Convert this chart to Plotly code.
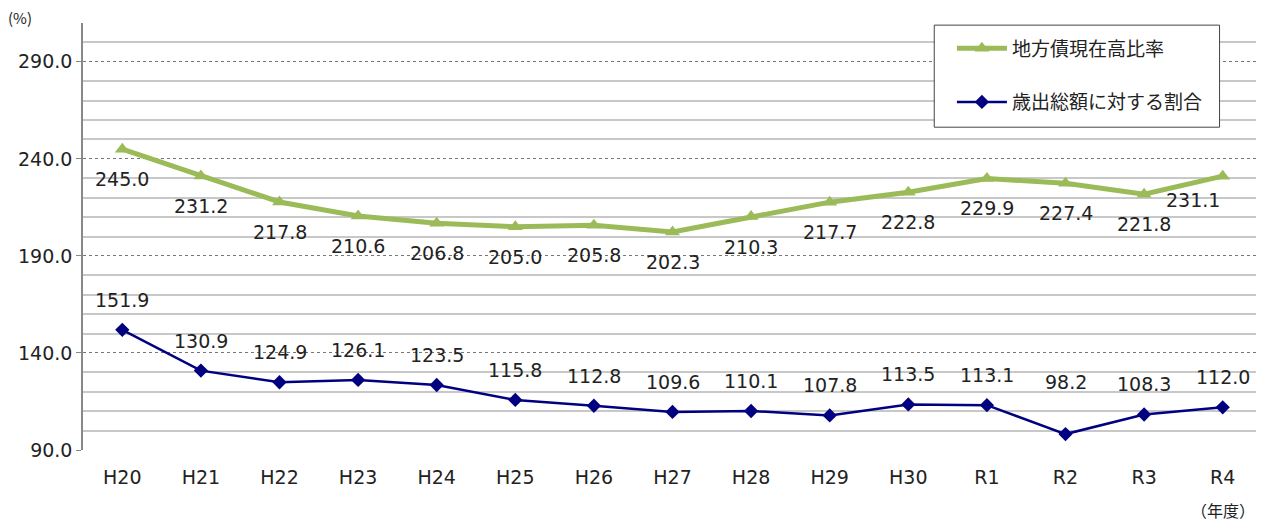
import plotly.graph_objects as go

# 年度
years = ["H20", "H21", "H22", "H23", "H24", "H25", "H26", "H27", "H28", "H29",
         "H30", "R1", "R2", "R3", "R4"]
# 地方債現在高比率
debt_ratio = [245.0, 231.2, 217.8, 210.6, 206.8, 205.0, 205.8, 202.3, 210.3,
              217.7, 222.8, 229.9, 227.4, 221.8, 231.1]
# 歳出総額に対する割合
expend_ratio = [151.9, 130.9, 124.9, 126.1, 123.5, 115.8, 112.8, 109.6, 110.1,
                107.8, 113.5, 113.1, 98.2, 108.3, 112.0]

JP = "Noto Sans CJK JP"
NUM = "DejaVu Sans, Noto Sans CJK JP"
GREEN = "#9BBB59"
NAVY = "#000080"
TXT = "#222"

fig = go.Figure()
fig.add_trace(go.Scatter(
    x=years, y=debt_ratio, name="地方債現在高比率", legendgroup="a",
    mode="lines+markers",
    line=dict(color=GREEN, width=5),
    marker=dict(symbol="triangle-up", size=13, color=GREEN),
))
fig.add_trace(go.Scatter(
    x=years, y=expend_ratio, name="歳出総額に対する割合", legendgroup="b",
    mode="lines+markers",
    line=dict(color=NAVY, width=2.5),
    marker=dict(symbol="diamond", size=11, color=NAVY),
))

# データラベル
for yr, v in zip(years, debt_ratio):
    xs, ys = 0, -30
    if yr == "R4":
        xs, ys = -30, -24
    fig.add_annotation(x=yr, y=v, text=f"{v:.1f}", showarrow=False,
                       xshift=xs, yshift=ys,
                       font=dict(family=NUM, size=19, color=TXT))
for yr, v in zip(years, expend_ratio):
    ys = 30
    if yr == "R2":
        ys = 52
    fig.add_annotation(x=yr, y=v, text=f"{v:.1f}", showarrow=False,
                       yshift=ys,
                       font=dict(family=NUM, size=19, color=TXT))

fig.add_annotation(xref="paper", yref="paper", x=-0.065, y=1.0,
                   xanchor="left", yanchor="middle", yshift=6, text="(%)",
                   showarrow=False, font=dict(family=JP, size=15, color=TXT))
fig.add_annotation(x="R4", yref="paper", y=-0.14, yanchor="middle",
                   text="（年度）", showarrow=False,
                   font=dict(family=JP, size=16, color=TXT))

# 凡例の枠
fig.add_shape(type="rect", xref="paper", yref="paper",
              x0=0.722, x1=0.964, y0=0.756, y1=0.995,
              line=dict(color="#444", width=1), fillcolor="white",
              layer="above")

# ページ余白(8px)分を差し引いたサイズ
fig.update_layout(
    width=1256, height=517,
    margin=dict(l=75, r=2, t=15, b=75, autoexpand=False),
    plot_bgcolor="white", paper_bgcolor="white",
    font=dict(family=NUM, size=19, color=TXT),
    showlegend=True,
    legend=dict(x=0.737, y=0.985, xanchor="left", yanchor="top",
                borderwidth=0, bgcolor="rgba(0,0,0,0)",
                font=dict(family=JP, size=19, color=TXT),
                tracegroupgap=26, itemwidth=50),
    xaxis=dict(
        showgrid=False, showline=False, ticks="", automargin=False,
        tickfont=dict(family=NUM, size=19), range=[-0.5, 14.5],
        ticklabelstandoff=14,
    ),
    yaxis=dict(
        range=[90, 310], tick0=90, dtick=50, tickformat=".1f",
        automargin=False,
        showgrid=True, gridcolor="#777", griddash="dot", gridwidth=1,
        showline=True, linecolor="#888", linewidth=1.5,
        ticks="outside", ticklen=5, tickcolor="#888",
        zeroline=False, tickfont=dict(family=NUM, size=19),
        minor=dict(dtick=10, tick0=90, showgrid=True, gridcolor="#C8C8C8",
                   griddash="solid", gridwidth=1.5, ticks=""),
    ),
)

fig.write_html("out.html")
